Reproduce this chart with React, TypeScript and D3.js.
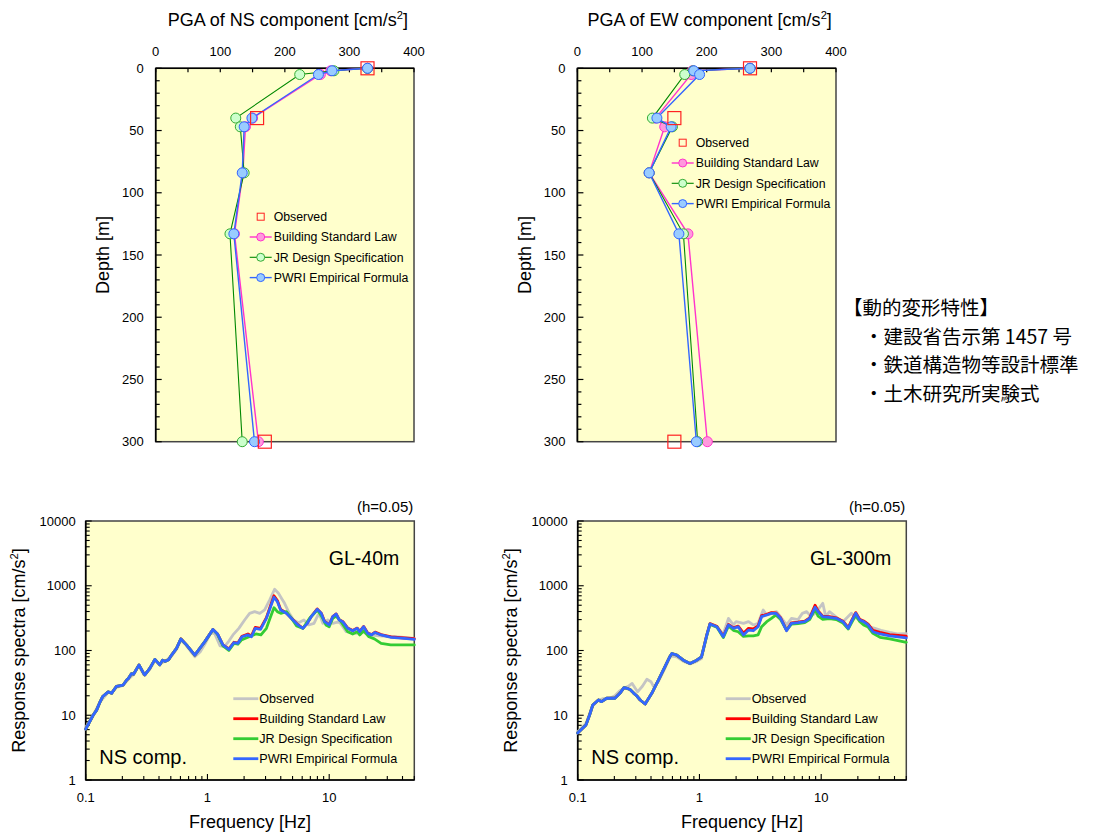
import React from 'react';
import * as d3 from 'd3';

const FONT = '"Liberation Sans", Arial, Helvetica, sans-serif';
const JFONT = '"Noto Sans CJK JP", "Noto Sans CJK SC", sans-serif';

// ---------- Top panels: PGA vs depth ----------
const depths = [0, 2, 5, 40, 47, 84, 133, 300];
const obsDepths = [0, 40, 300];

const nsObserved = [328, 157, 169];
const nsBSL = [328, 271, 255, 150, 139, 135, 122, 159];
const nsJR = [328, 276, 223, 124, 131, 137, 115, 134];
const nsPWRI = [328, 273, 252, 149, 137, 134, 121, 153];

const ewObserved = [267, 150, 150];
const ewBSL = [267, 178, 176, 121, 135, 111, 171, 201];
const ewJR = [267, 179, 166, 116, 147, 111, 164, 186];
const ewPWRI = [267, 180, 189, 123, 145, 111, 157, 184];

const pgaTicks = [0, 100, 200, 300, 400];
const depthTicks = [0, 50, 100, 150, 200, 250, 300];

const legendNames = ['Observed', 'Building Standard Law', 'JR Design Specification', 'PWRI Empirical Formula'];

// ---------- Bottom panels: response spectra (freq Hz, cm/s2) ----------
const gl40Observed: [number, number][] = [
  [0.1, 6.5], [0.115, 10], [0.131, 16], [0.153, 22.5], [0.163, 22], [0.179, 27], [0.203, 29], [0.224, 36],
  [0.245, 42], [0.274, 58], [0.30, 42], [0.336, 51], [0.37, 70], [0.406, 62], [0.447, 68], [0.507, 82],
  [0.557, 104], [0.605, 145], [0.673, 118], [0.787, 80], [0.87, 95], [0.951, 125], [1.07, 190], [1.15, 180],
  [1.27, 118], [1.38, 115], [1.5, 140], [1.62, 174], [1.81, 220], [2.02, 296], [2.22, 375], [2.44, 398],
  [2.69, 375], [2.95, 423], [3.24, 600], [3.56, 882], [3.83, 764], [4.1, 618], [4.3, 535], [4.67, 384],
  [5.1, 296], [5.6, 269], [6.2, 296], [6.8, 248], [7.5, 263], [8.1, 356], [8.5, 330], [8.87, 263],
  [9.75, 296], [10.7, 263], [12.1, 279], [13.8, 195], [15.5, 190], [16.7, 184], [18.8, 195], [21.3, 174],
  [25.7, 168], [35, 163], [50, 154],
];
const gl40BSL: [number, number][] = [
  [0.1, 6.1], [0.108, 8], [0.115, 10], [0.123, 12], [0.131, 16], [0.138, 19.5], [0.153, 23], [0.163, 21.8],
  [0.179, 28], [0.203, 29.3], [0.217, 35], [0.224, 37], [0.238, 44], [0.247, 43], [0.274, 60], [0.30, 44],
  [0.306, 42], [0.336, 53], [0.37, 73], [0.406, 60], [0.428, 71], [0.447, 68], [0.48, 72], [0.507, 85],
  [0.557, 108], [0.605, 152], [0.673, 122], [0.787, 85], [0.865, 108], [0.951, 137], [1.11, 212], [1.21, 180],
  [1.34, 122], [1.50, 106], [1.65, 134], [1.78, 131], [1.92, 166], [2.15, 180], [2.30, 168], [2.47, 228],
  [2.73, 220], [3.05, 322], [3.30, 495], [3.52, 700], [3.75, 590], [3.99, 430], [4.45, 380], [5.04, 298],
  [5.53, 250], [6.08, 222], [6.61, 265], [7.12, 335], [7.97, 438], [8.6, 378], [9.16, 282], [10.0, 250],
  [10.7, 335], [11.4, 368], [12.1, 298], [12.9, 281], [14.2, 222], [15.6, 204], [17.0, 222], [17.8, 197],
  [19.2, 235], [20.7, 186], [22.3, 176], [23.8, 192], [26.7, 176], [32.2, 162], [41.4, 156], [50, 152],
];
const gl40JR: [number, number][] = [
  [0.1, 6.1], [0.108, 8], [0.115, 10], [0.123, 12], [0.131, 16], [0.138, 19.5], [0.153, 23], [0.163, 21.8],
  [0.179, 28], [0.203, 29.3], [0.217, 35], [0.224, 37], [0.238, 44], [0.247, 43], [0.274, 60], [0.30, 44],
  [0.306, 42], [0.336, 53], [0.37, 73], [0.406, 60], [0.428, 71], [0.447, 68], [0.48, 72], [0.507, 85],
  [0.557, 108], [0.605, 151], [0.673, 122], [0.787, 85], [0.865, 108], [0.951, 137], [1.11, 210], [1.21, 178],
  [1.34, 118], [1.5, 100], [1.65, 129], [1.78, 125], [1.9, 145], [2.15, 160], [2.5, 180], [2.75, 174],
  [3.05, 220], [3.3, 333], [3.52, 458], [3.75, 398], [4.0, 375], [4.45, 398], [4.9, 314], [5.4, 239],
  [6.1, 220], [6.9, 314], [8.0, 423], [8.7, 333], [9.4, 248], [10.0, 233], [10.7, 314], [11.4, 341],
  [12.5, 279], [14.2, 195], [15.6, 180], [17, 195], [17.8, 174], [19.2, 202], [21.2, 163], [23.5, 151],
  [26.7, 129], [32, 122], [50, 122],
];
const gl40PWRI: [number, number][] = [
  [0.1, 6.1], [0.108, 8], [0.115, 10], [0.123, 12], [0.131, 16], [0.138, 19.5], [0.153, 23], [0.163, 21.8],
  [0.179, 28], [0.203, 29.3], [0.217, 35], [0.224, 37], [0.238, 44], [0.247, 43], [0.274, 60], [0.30, 44],
  [0.306, 42], [0.336, 53], [0.37, 73], [0.406, 60], [0.428, 71], [0.447, 68], [0.48, 72], [0.507, 85],
  [0.557, 108], [0.605, 151], [0.673, 122], [0.787, 85], [0.865, 108], [0.951, 137], [1.11, 212], [1.21, 180],
  [1.34, 122], [1.50, 104], [1.65, 132], [1.78, 129], [1.92, 163], [2.15, 174], [2.30, 163], [2.47, 220],
  [2.73, 212], [3.05, 314], [3.30, 475], [3.52, 664], [3.75, 569], [3.99, 423], [4.45, 375], [5.04, 296],
  [5.53, 248], [6.08, 220], [6.61, 263], [7.12, 333], [7.97, 433], [8.6, 375], [9.16, 279], [10.0, 248],
  [10.7, 333], [11.4, 366], [12.1, 296], [12.9, 279], [14.2, 220], [15.6, 202], [17.0, 220], [17.8, 195],
  [19.2, 233], [20.7, 184], [22.3, 174], [23.8, 190], [26.7, 174], [32.2, 160], [41.4, 154], [50, 149],
];

const gl300Observed: [number, number][] = [
  [0.1, 5.5], [0.117, 7.5], [0.133, 14], [0.148, 17], [0.16, 18], [0.18, 18], [0.202, 20], [0.222, 24],
  [0.24, 26], [0.26, 28], [0.28, 31], [0.31, 23], [0.34, 28], [0.37, 36], [0.40, 33], [0.42, 27.6],
  [0.46, 33], [0.52, 53], [0.57, 78], [0.6, 82], [0.65, 80], [0.74, 68], [0.84, 62], [0.95, 68],
  [1.04, 75], [1.15, 170], [1.22, 250], [1.39, 230], [1.57, 180], [1.73, 314], [1.9, 248], [2.0, 279],
  [2.3, 263], [2.53, 279], [2.77, 248], [3.03, 263], [3.34, 423], [3.57, 353], [3.9, 380], [4.3, 398],
  [4.64, 330], [5.2, 250], [5.7, 314], [6.45, 300], [7.0, 375], [7.6, 398], [8.2, 340], [9.0, 380],
  [10.3, 536], [10.9, 333], [11.7, 398], [12.7, 353], [14, 300], [15.1, 279], [17.7, 375], [19.2, 320],
  [20.7, 296], [22.3, 270], [24.5, 233], [27.6, 220], [31, 205], [36.5, 190], [42, 180], [50, 182],
];
const gl300BSL: [number, number][] = [
  [0.1, 5.3], [0.117, 7.1], [0.125, 10], [0.133, 14.4], [0.148, 17.2], [0.157, 16.2], [0.173, 18.3], [0.202, 18.3],
  [0.222, 21.8], [0.24, 26.7], [0.254, 26], [0.269, 25], [0.288, 22], [0.305, 20], [0.326, 17.2], [0.358, 14.9],
  [0.406, 21.8], [0.46, 35], [0.52, 56], [0.57, 80], [0.594, 90], [0.652, 85], [0.738, 71], [0.836, 63],
  [0.95, 71], [1.04, 80], [1.15, 176], [1.22, 260], [1.39, 236], [1.57, 166], [1.73, 252], [1.9, 224],
  [2.08, 238], [2.3, 185], [2.53, 220], [2.77, 215], [3.03, 240], [3.24, 345], [3.57, 362], [3.9, 385],
  [4.24, 382], [4.64, 320], [5.19, 206], [5.7, 268], [6.45, 274], [7.33, 284], [8.04, 320], [8.9, 500],
  [9.43, 410], [10.3, 340], [11.7, 332], [13.3, 320], [15.1, 284], [16.7, 226], [17.7, 286], [19.2, 385],
  [20.7, 304], [22.3, 286], [24.3, 256], [26.6, 204], [30.4, 190], [36.5, 176], [50, 166],
];
const gl300JR: [number, number][] = [
  [0.1, 5.3], [0.117, 7.1], [0.125, 10], [0.133, 14.4], [0.148, 17.2], [0.157, 16.2], [0.173, 18.3], [0.202, 18.3],
  [0.222, 21.8], [0.24, 26.7], [0.254, 26], [0.269, 25], [0.288, 22], [0.305, 20], [0.326, 17.2], [0.358, 14.9],
  [0.406, 21.8], [0.46, 35], [0.52, 56], [0.57, 80], [0.594, 90], [0.652, 85], [0.738, 71], [0.836, 63],
  [0.95, 71], [1.04, 80], [1.15, 172], [1.22, 254], [1.39, 230], [1.57, 158], [1.73, 240], [1.9, 205],
  [2.08, 195], [2.3, 165], [2.53, 168], [2.77, 168], [3.03, 174], [3.24, 233], [3.57, 279], [3.9, 314],
  [4.24, 353], [4.64, 300], [5.19, 207], [5.7, 255], [6.45, 260], [7.33, 270], [8.04, 300], [8.9, 433],
  [9.43, 340], [10.3, 304], [11.7, 310], [13.3, 300], [15.1, 265], [16.7, 215], [17.7, 265], [19.2, 350],
  [20.7, 280], [22.3, 248], [24.3, 230], [26.6, 184], [30.4, 160], [36.5, 151], [50, 134],
];
const gl300PWRI: [number, number][] = [
  [0.1, 5.3], [0.117, 7.1], [0.125, 10], [0.133, 14.4], [0.148, 17.2], [0.157, 16.2], [0.173, 18.3], [0.202, 18.3],
  [0.222, 21.8], [0.24, 26.7], [0.254, 26], [0.269, 25], [0.288, 22], [0.305, 20], [0.326, 17.2], [0.358, 14.9],
  [0.406, 21.8], [0.46, 35], [0.52, 56], [0.57, 80], [0.594, 90], [0.652, 85], [0.738, 71], [0.836, 63],
  [0.95, 71], [1.04, 80], [1.15, 174], [1.22, 257], [1.39, 233], [1.57, 163], [1.73, 248], [1.9, 220],
  [2.08, 233], [2.3, 174], [2.53, 207], [2.77, 202], [3.03, 233], [3.24, 333], [3.57, 353], [3.9, 375],
  [4.24, 375], [4.64, 314], [5.19, 202], [5.7, 263], [6.45, 269], [7.33, 279], [8.04, 314], [8.9, 465],
  [9.43, 398], [10.3, 333], [11.7, 326], [13.3, 314], [15.1, 279], [16.7, 220], [17.7, 279], [19.2, 375],
  [20.7, 296], [22.3, 279], [24.3, 248], [26.6, 195], [30.4, 180], [36.5, 168], [50, 157],
];

const freqTickLabels = [0.1, 1, 10];
const specTickLabels = [1, 10, 100, 1000, 10000];

const japaneseLines = ['【動的変形特性】', '・建設省告示第 1457 号', '・鉄道構造物等設計標準', '・土木研究所実験式'];

// ---------- styling ----------
const PLOT_BG = '#FFFFCC';
const depthStyles = [
  { line: '#ff33cc', fill: '#ff99dd', stroke: '#ff33cc', width: 1.4 },
  { line: '#008800', fill: '#ccffcc', stroke: '#33aa33', width: 1.1 },
  { line: '#3366ff', fill: '#99ccff', stroke: '#3366ff', width: 1.4 },
];
const specColors = ['#c4c4c4', '#ff0000', '#33cc33', '#3366ff'];

function Sup({ text, x, y, size, anchor = 'middle', transform }: any) {
  return (
    <text x={x} y={y} fontSize={size} fontFamily={FONT} textAnchor={anchor} transform={transform} fill="#000">
      <tspan>{text}</tspan>
      <tspan dy={-size * 0.4} fontSize={size * 0.62}>2</tspan>
      <tspan dy={size * 0.4}>]</tspan>
    </text>
  );
}

function DepthPanel({ x0, x1, title, obs, series, legendX, legendY, labelX }: any) {
  const y0 = 68.3, y1 = 441.7;
  const x = d3.scaleLinear().domain([0, 400]).range([x0, x1]);
  const y = d3.scaleLinear().domain([0, 300]).range([y0, y1]);
  const line = d3.line<number>().x((v) => x(v)).y((_, i) => y(depths[i]));
  const minorY = d3.range(0, 301, 10);
  const minorX = d3.range(0, 401, 50);
  return (
    <g>
      <rect x={x0} y={y0} width={x1 - x0} height={y1 - y0} fill={PLOT_BG} stroke="#444" strokeWidth={1.5} />
      {minorX.map((v) => (
        <line key={'tx' + v} x1={x(v)} x2={x(v)} y1={y0} y2={y0 + 4} stroke="#000" strokeWidth={1.2} />
      ))}
      {minorY.map((v) => (
        <line key={'ty' + v} x1={x0} x2={x0 + (v % 50 === 0 ? 6 : 4)} y1={y(v)} y2={y(v)} stroke="#000" strokeWidth={1.2} />
      ))}
      <line x1={x0} x2={x1} y1={y0} y2={y0} stroke="#000" strokeWidth={1.6} />
      <line x1={x0} x2={x0} y1={y0} y2={y1} stroke="#000" strokeWidth={1.6} />
      {pgaTicks.map((v) => (
        <text key={'lx' + v} x={x(v)} y={55.5} fontSize={13} fontFamily={FONT} textAnchor="middle">{v}</text>
      ))}
      {depthTicks.map((v) => (
        <text key={'ly' + v} x={x0 - 12} y={y(v) + 4.5} fontSize={13} fontFamily={FONT} textAnchor="end">{v}</text>
      ))}
      <Sup text={title} x={(x0 + x1) / 2 + 3} y={26} size={18} />
      <text transform={`translate(${labelX},${(y0 + y1) / 2}) rotate(-90)`} fontSize={18} fontFamily={FONT} textAnchor="middle">Depth [m]</text>
      {series.map((vals: number[], k: number) => {
        const st = depthStyles[k];
        return (
          <g key={'s' + k}>
            <path d={line(vals) || ''} fill="none" stroke={st.line} strokeWidth={st.width} />
            {vals.map((v, i) => (
              <circle key={i} cx={x(v)} cy={y(depths[i])} r={5} fill={st.fill} stroke={st.stroke} strokeWidth={1} />
            ))}
          </g>
        );
      })}
      {obs.map((v: number, i: number) => (
        <rect key={'o' + i} x={x(v) - 6.5} y={y(obsDepths[i]) - 6.5} width={13} height={13} fill="none" stroke="#ff2222" strokeWidth={1.2} />
      ))}
      {legendNames.map((name, i) => {
        const ly = legendY + i * 20.3;
        return (
          <g key={'lg' + i}>
            {i === 0 ? (
              <rect x={legendX - 3.5} y={ly - 3.5} width={7} height={7} fill="none" stroke="#ff2222" strokeWidth={1} />
            ) : (
              <g>
                <line x1={legendX - 11} x2={legendX + 11} y1={ly} y2={ly} stroke={depthStyles[i - 1].line} strokeWidth={depthStyles[i - 1].width} />
                <circle cx={legendX} cy={ly} r={4} fill={depthStyles[i - 1].fill} stroke={depthStyles[i - 1].stroke} strokeWidth={1} />
              </g>
            )}
            <text x={legendX + 13} y={ly + 4.3} fontSize={12.3} fontFamily={FONT}>{name}</text>
          </g>
        );
      })}
    </g>
  );
}

function SpectraPanel({ x0, x1, site, series, legendX, labelX }: any) {
  const y0 = 521, y1 = 780;
  const x = d3.scaleLog().domain([0.1, 50]).range([x0, x1]);
  const y = d3.scaleLog().domain([1, 10000]).range([y1, y0]);
  const line = d3.line<[number, number]>().x((d) => x(d[0])).y((d) => y(d[1]));
  const xMinor: number[] = [];
  [0.1, 1, 10].forEach((dec) => {
    for (let m = 1; m <= 9; m++) {
      const v = dec * m;
      if (v <= 50.0001) xMinor.push(v);
    }
  });
  const yMinor: number[] = [];
  [1, 10, 100, 1000].forEach((dec) => {
    for (let m = 1; m <= 9; m++) yMinor.push(dec * m);
  });
  yMinor.push(10000);
  return (
    <g>
      <rect x={x0} y={y0} width={x1 - x0} height={y1 - y0} fill={PLOT_BG} stroke="#444" strokeWidth={1.5} />
      {xMinor.map((v, i) => {
        const major = Math.abs(Math.log10(v) - Math.round(Math.log10(v))) < 1e-6;
        return <line key={'xt' + i} x1={x(v)} x2={x(v)} y1={y1} y2={y1 - (major ? 6 : 4)} stroke="#000" strokeWidth={1.1} />;
      })}
      {yMinor.map((v, i) => {
        const major = Math.abs(Math.log10(v) - Math.round(Math.log10(v))) < 1e-6;
        return <line key={'yt' + i} x1={x0} x2={x0 + (major ? 6 : 4)} y1={y(v)} y2={y(v)} stroke="#000" strokeWidth={1.1} />;
      })}
      <line x1={x0} x2={x1} y1={y1} y2={y1} stroke="#000" strokeWidth={1.6} />
      <line x1={x0} x2={x0} y1={y0} y2={y1} stroke="#000" strokeWidth={1.6} />
      {freqTickLabels.map((v) => (
        <text key={'fl' + v} x={x(v)} y={802} fontSize={13} fontFamily={FONT} textAnchor="middle">{v}</text>
      ))}
      {specTickLabels.map((v) => (
        <text key={'sl' + v} x={x0 - 10} y={y(v) + 4.5} fontSize={13} fontFamily={FONT} textAnchor="end">{v}</text>
      ))}
      {series.map((pts: [number, number][], k: number) => (
        <path key={'sp' + k} d={line(pts) || ''} fill="none" stroke={specColors[k]} strokeWidth={2.8} strokeLinejoin="round" strokeLinecap="round" />
      ))}
      <text x={x1 - 1} y={512} fontSize={15} fontFamily={FONT} textAnchor="end">(h=0.05)</text>
      <text x={x1 - 15} y={565} fontSize={19.5} fontFamily={FONT} textAnchor="end">{site}</text>
      <text x={x0 + 13.5} y={763.5} fontSize={20} fontFamily={FONT}>NS comp.</text>
      <text x={(x0 + x1) / 2} y={828} fontSize={18} fontFamily={FONT} textAnchor="middle">Frequency [Hz]</text>
      <Sup text="Response spectra [cm/s" x={0} y={0} size={18} transform={`translate(${labelX},${(y0 + y1) / 2}) rotate(-90)`} />
      {legendNames.map((name, i) => {
        const ly = 698.7 + i * 20;
        return (
          <g key={'sl' + i}>
            <line x1={legendX} x2={legendX + 25} y1={ly} y2={ly} stroke={specColors[i]} strokeWidth={2.8} />
            <text x={legendX + 26} y={ly + 4.5} fontSize={12.6} fontFamily={FONT}>{name}</text>
          </g>
        );
      })}
    </g>
  );
}

export default function App() {
  return (
    <svg width={1096} height={834} style={{ position: 'absolute', left: 0, top: 0, background: '#fff' }}>
      <DepthPanel x0={155.7} x1={414} title="PGA of NS component [cm/s" obs={nsObserved}
        series={[nsBSL, nsJR, nsPWRI]} legendX={260.7} legendY={216.7} labelX={109} />
      <DepthPanel x0={577.4} x1={836} title="PGA of EW component [cm/s" obs={ewObserved}
        series={[ewBSL, ewJR, ewPWRI]} legendX={682.7} legendY={142.7} labelX={531} />
      <SpectraPanel x0={85.7} x1={414.3} site="GL-40m" series={[gl40Observed, gl40BSL, gl40JR, gl40PWRI]}
        legendX={233.3} labelX={25} />
      <SpectraPanel x0={577.7} x1={906.3} site="GL-300m" series={[gl300Observed, gl300BSL, gl300JR, gl300PWRI]}
        legendX={725.7} labelX={517} />
      {japaneseLines.map((t, i) => (
        <text key={'j' + i} x={i === 0 ? 843 : 864} y={315 + i * 28.5} fontSize={19.5} fontFamily={JFONT} fill="#000">{t}</text>
      ))}
    </svg>
  );
}
